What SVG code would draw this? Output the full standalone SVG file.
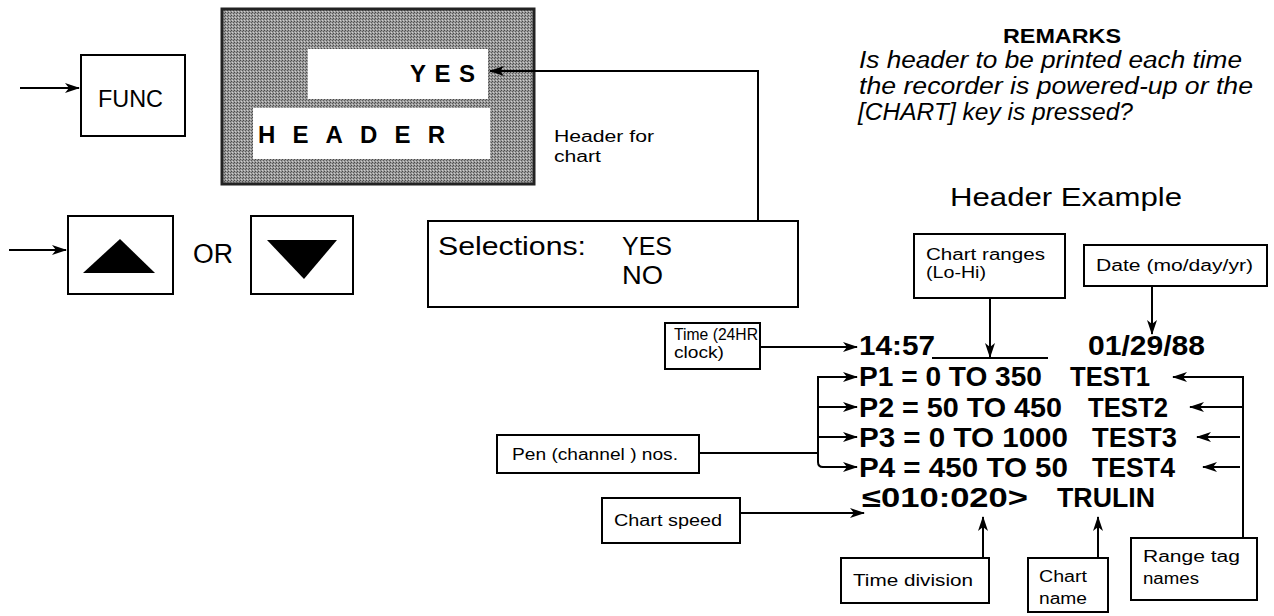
<svg xmlns="http://www.w3.org/2000/svg" width="1274" height="616" viewBox="0 0 1274 616">
<style>
text{font-family:"Liberation Sans","Noto Sans",sans-serif;fill:#000}
.box{fill:#fff;stroke:#000;stroke-width:2}
.lbl{font-size:16px}
.big{font-size:27px;font-weight:bold}
.ln{fill:none;stroke:#000;stroke-width:2}
.ar{fill:none;stroke:#000;stroke-width:2;marker-end:url(#ah)}
</style>
<defs>
<marker id="ah" markerUnits="userSpaceOnUse" markerWidth="15" markerHeight="10" refX="14" refY="5" orient="auto">
<path d="M0,0 L15,5 L0,10 L4,5 z" fill="#000"/>
</marker>
<pattern id="stip" width="3" height="3" patternUnits="userSpaceOnUse">
<rect width="3" height="3" fill="#9a9a9a"/>
<rect width="1" height="1" fill="#4a4a4a"/>
<rect x="2" y="1" width="1" height="1" fill="#5a5a5a"/>
<rect x="1" y="2" width="1" height="1" fill="#cfcfcf"/>
</pattern>
</defs>
<rect width="1274" height="616" fill="#fff"/>

<g id="func">
<rect class="box" x="81" y="55" width="104" height="81"/>
<text x="98" y="107" font-size="24" textLength="65" lengthAdjust="spacingAndGlyphs">FUNC</text>
</g>

<g id="display">
<rect x="222" y="9" width="312" height="175" fill="url(#stip)" stroke="#222" stroke-width="3"/>
<rect x="308" y="49" width="180" height="50" fill="#fff"/>
<rect x="253" y="108" width="237" height="51" fill="#fff"/>
<text x="410" y="82" font-size="24" font-weight="bold" textLength="65" lengthAdjust="spacing">YES</text>
<text x="258" y="143" font-size="24" font-weight="bold" textLength="187" lengthAdjust="spacing">HEADER</text>
</g>

<g id="header-for-chart">
<text class="lbl" x="554" y="142" textLength="100" lengthAdjust="spacingAndGlyphs">Header for</text>
<text class="lbl" x="554" y="162" textLength="47" lengthAdjust="spacingAndGlyphs">chart</text>
</g>

<g id="selections">
<rect class="box" x="428" y="221" width="370" height="86"/>
<text x="438" y="255" font-size="26" textLength="148" lengthAdjust="spacingAndGlyphs">Selections:</text>
<text x="622" y="255" font-size="26" textLength="50" lengthAdjust="spacingAndGlyphs">YES</text>
<text x="622" y="284" font-size="26" textLength="41" lengthAdjust="spacingAndGlyphs">NO</text>
</g>

<g id="up-key">
<rect class="box" x="68" y="216" width="105" height="78"/>
<polygon points="83,273 155,273 120,239" fill="#000"/>
</g>
<g id="or">
<text x="193" y="263" font-size="27" textLength="40" lengthAdjust="spacingAndGlyphs">OR</text>
</g>
<g id="down-key">
<rect class="box" x="251" y="216" width="102" height="78"/>
<polygon points="267,240 337,240 304,279" fill="#000"/>
</g>

<g id="remarks">
<text x="1003" y="43" font-size="20" font-weight="bold" textLength="118" lengthAdjust="spacingAndGlyphs">REMARKS</text>
<text x="859" y="68" font-size="23" font-style="italic" textLength="383" lengthAdjust="spacingAndGlyphs">Is header to be printed each time</text>
<text x="859" y="94" font-size="23" font-style="italic" textLength="394" lengthAdjust="spacingAndGlyphs">the recorder is powered-up or the</text>
<text x="858" y="120" font-size="23" font-style="italic" textLength="275" lengthAdjust="spacingAndGlyphs">[CHART] key is pressed?</text>
</g>

<g id="header-example">
<text x="950" y="206" font-size="26" textLength="232" lengthAdjust="spacingAndGlyphs">Header Example</text>
</g>

<g id="chart-ranges">
<rect class="box" x="914" y="234" width="151" height="64"/>
<text class="lbl" x="926" y="260" textLength="119" lengthAdjust="spacingAndGlyphs">Chart ranges</text>
<text class="lbl" x="926" y="278" textLength="60" lengthAdjust="spacingAndGlyphs">(Lo-Hi)</text>
</g>

<g id="date">
<rect class="box" x="1084" y="245" width="183" height="41"/>
<text class="lbl" x="1096" y="271" textLength="157" lengthAdjust="spacingAndGlyphs">Date (mo/day/yr)</text>
</g>

<g id="time">
<rect class="box" x="665" y="323" width="95" height="46"/>
<text class="lbl" x="674" y="340" textLength="84" lengthAdjust="spacingAndGlyphs">Time (24HR</text>
<text class="lbl" x="674" y="358" textLength="50" lengthAdjust="spacingAndGlyphs">clock)</text>
</g>

<g id="pen">
<rect class="box" x="497" y="435" width="202" height="38"/>
<text class="lbl" x="512" y="460" textLength="166" lengthAdjust="spacingAndGlyphs">Pen (channel ) nos.</text>
</g>

<g id="chart-speed">
<rect class="box" x="602" y="498" width="138" height="45"/>
<text class="lbl" x="614" y="526" textLength="108" lengthAdjust="spacingAndGlyphs">Chart speed</text>
</g>

<g id="time-division">
<rect class="box" x="841" y="558" width="148" height="45"/>
<text class="lbl" x="853" y="586" textLength="120" lengthAdjust="spacingAndGlyphs">Time division</text>
</g>

<g id="chart-name">
<rect class="box" x="1028" y="558" width="80" height="54"/>
<text class="lbl" x="1039" y="582" textLength="48" lengthAdjust="spacingAndGlyphs">Chart</text>
<text class="lbl" x="1039" y="604" textLength="48" lengthAdjust="spacingAndGlyphs">name</text>
</g>

<g id="range-tag">
<rect class="box" x="1131" y="538" width="126" height="62"/>
<text class="lbl" x="1143" y="562" textLength="97" lengthAdjust="spacingAndGlyphs">Range tag</text>
<text class="lbl" x="1143" y="584" textLength="56" lengthAdjust="spacingAndGlyphs">names</text>
</g>

<g id="header-printout">
<text class="big" x="859" y="355" textLength="76" lengthAdjust="spacingAndGlyphs">14:57</text>
<text class="big" x="1088" y="355" textLength="117" lengthAdjust="spacingAndGlyphs">01/29/88</text>
<text class="big" x="859" y="386" textLength="183" lengthAdjust="spacingAndGlyphs">P1 = 0 TO 350</text>
<text class="big" x="1070" y="386" textLength="80" lengthAdjust="spacingAndGlyphs">TEST1</text>
<text class="big" x="859" y="417" textLength="203" lengthAdjust="spacingAndGlyphs">P2 = 50 TO 450</text>
<text class="big" x="1088" y="417" textLength="80" lengthAdjust="spacingAndGlyphs">TEST2</text>
<text class="big" x="859" y="447" textLength="209" lengthAdjust="spacingAndGlyphs">P3 = 0  TO 1000</text>
<text class="big" x="1092" y="447" textLength="85" lengthAdjust="spacingAndGlyphs">TEST3</text>
<text class="big" x="859" y="477" textLength="209" lengthAdjust="spacingAndGlyphs">P4 = 450  TO 50</text>
<text class="big" x="1092" y="477" textLength="83" lengthAdjust="spacingAndGlyphs">TEST4</text>
<text class="big" x="862" y="507" textLength="166" lengthAdjust="spacingAndGlyphs">≤010:020&gt;</text>
<text class="big" x="1057" y="507" textLength="98" lengthAdjust="spacingAndGlyphs">TRULIN</text>
</g>

<g id="connectors">
<line class="ar" x1="20" y1="88" x2="79" y2="88"/>
<line class="ar" x1="9" y1="250" x2="66" y2="250"/>
<polyline class="ar" points="758,221 758,71 490,71"/>
<line class="ln" x1="932" y1="358" x2="1048" y2="358"/>
<line class="ar" x1="990" y1="298" x2="990" y2="357"/>
<line class="ar" x1="1152" y1="286" x2="1152" y2="334"/>
<line class="ar" x1="760" y1="347" x2="857" y2="347"/>
<line class="ln" x1="699" y1="453" x2="818" y2="453"/>
<path class="ln" d="M818,377 V462 Q818,467 823,467"/>
<line class="ar" x1="817" y1="377" x2="857" y2="377"/>
<line class="ar" x1="818" y1="407" x2="857" y2="407"/>
<line class="ar" x1="818" y1="437" x2="857" y2="437"/>
<line class="ar" x1="822" y1="467" x2="857" y2="467"/>
<line class="ln" x1="1243" y1="538" x2="1243" y2="376"/>
<line class="ar" x1="1244" y1="377" x2="1173" y2="377"/>
<line class="ar" x1="1243" y1="407" x2="1190" y2="407"/>
<line class="ar" x1="1240" y1="437" x2="1197" y2="437"/>
<line class="ar" x1="1240" y1="467" x2="1203" y2="467"/>
<line class="ar" x1="740" y1="513" x2="864" y2="513"/>
<line class="ar" x1="983" y1="558" x2="983" y2="517"/>
<line class="ar" x1="1098" y1="558" x2="1098" y2="517"/>
</g>
</svg>
